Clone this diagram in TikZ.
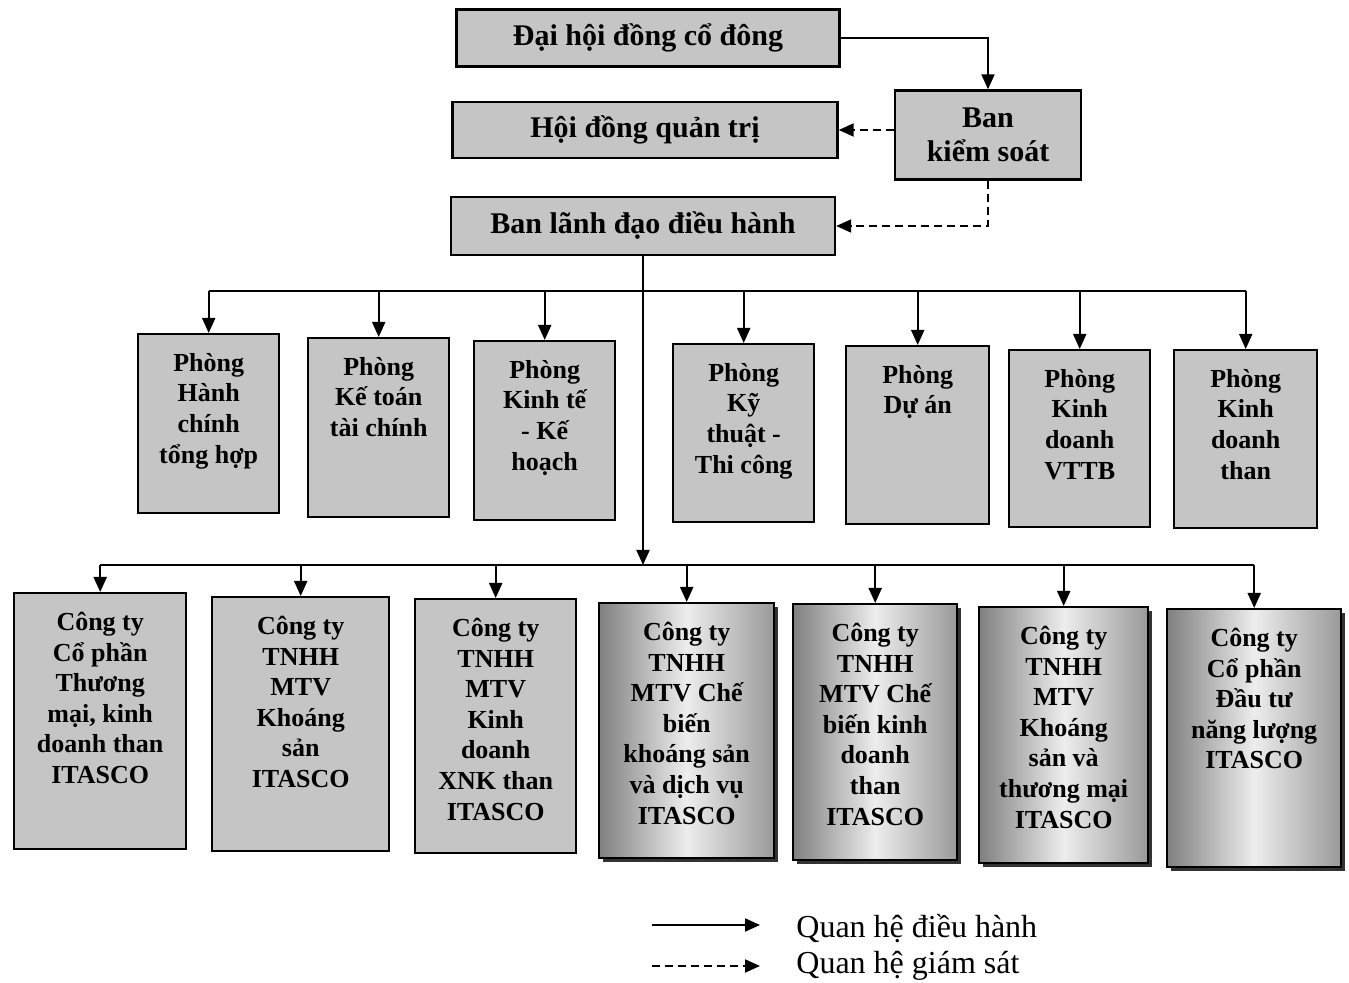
\documentclass[tikz,border=0pt]{standalone}
\usepackage{fontspec}
\setmainfont{Liberation Serif}
\usetikzlibrary{arrows.meta,shadows}
\definecolor{boxgray}{RGB}{197,197,197}
\newcommand{\cell}[3]{\parbox[c][#2][t]{#1}{\centering\vspace*{9.5pt}#3}}

\begin{document}
\begin{tikzpicture}[x=0.5pt,y=-0.5pt,
    ctrl/.style={line width=1pt,-{Triangle[length=7.5pt,width=6.5pt]}},
    superv/.style={ctrl,dash pattern=on 4pt off 2.5pt},
    head/.style={draw,fill=boxgray,line width=1.2pt,align=center,
      font=\bfseries\fontsize{15}{17}\selectfont},
    unit/.style={draw,fill=boxgray,line width=1.2pt,inner sep=0pt,anchor=north west,
      font=\bfseries\fontsize{13}{15.3}\selectfont},
    subsid/.style={unit,left color=black!50,right color=black!40,middle color=black!7,
      drop shadow={shadow xshift=1.8pt,shadow yshift=-1.8pt,fill=black!80,opacity=1}},
    legend/.style={anchor=west,inner sep=0pt,font=\fontsize{16}{19}\selectfont}]
    \useasboundingbox (0,0) rectangle (1349,983);

    \node [head,minimum width=191.5pt,minimum height=28.5pt] (agm) at (648,38) {Đại hội đồng cổ đông};
    \node [head,minimum width=192.5pt,minimum height=28pt] (board) at (645,130) {Hội đồng quản trị};
    \node [head,minimum width=93pt,minimum height=44.5pt] (audit) at (988,135) {Ban\\kiểm soát};
    \node [head,minimum width=192pt,minimum height=29pt] (lead) at (643,226) {Ban lãnh đạo điều hành};

    \node [unit] (d1) at (137,333) {\cell{70.5pt}{89.5pt}{Phòng\\Hành\\chính\\tổng hợp}};
    \node [unit] (d2) at (307,337) {\cell{70.5pt}{89.5pt}{Phòng\\Kế toán\\tài chính}};
    \node [unit] (d3) at (473,340) {\cell{70.5pt}{89.5pt}{Phòng\\Kinh tế\\- Kế\\hoạch}};
    \node [unit] (d4) at (672,343) {\cell{70.5pt}{89pt}{Phòng\\Kỹ\\thuật -\\Thi công}};
    \node [unit] (d5) at (845,345) {\cell{71.5pt}{89pt}{Phòng\\Dự án}};
    \node [unit] (d6) at (1008,349) {\cell{70.5pt}{88.5pt}{Phòng\\Kinh\\doanh\\VTTB}};
    \node [unit] (d7) at (1173,349) {\cell{71.5pt}{89pt}{Phòng\\Kinh\\doanh\\than}};

    \node [unit] (c1) at (13,592) {\cell{86pt}{128pt}{Công ty\\Cổ phần\\Thương\\mại, kinh\\doanh than\\ITASCO}};
    \node [unit] (c2) at (211,596) {\cell{88.5pt}{127pt}{Công ty\\TNHH\\MTV\\Khoáng\\sản\\ITASCO}};
    \node [unit] (c3) at (414,598) {\cell{80.5pt}{127pt}{Công ty\\TNHH\\MTV\\Kinh\\doanh\\XNK than\\ITASCO}};
    \node [subsid] (c4) at (598,602) {\cell{87.5pt}{127.5pt}{Công ty\\TNHH\\MTV Chế\\biến\\khoáng sản\\và dịch vụ\\ITASCO}};
    \node [subsid] (c5) at (792,603) {\cell{82pt}{128pt}{Công ty\\TNHH\\MTV Chế\\biến kinh\\doanh\\than\\ITASCO}};
    \node [subsid] (c6) at (978,606) {\cell{84.5pt}{128pt}{Công ty\\TNHH\\MTV\\Khoáng\\sản và\\thương mại\\ITASCO}};
    \node [subsid] (c7) at (1166,608) {\cell{87pt}{129pt}{Công ty\\Cổ phần\\Đầu tư\\năng lượng\\ITASCO}};

    \draw [ctrl] (agm.east) -| (audit.north);
    \draw [superv] (audit.west |- board.east) -- (board.east);
    \draw [superv] (audit.south) |- (lead.east);

    \coordinate (busA) at (645,291);
    \coordinate (busB) at (645,565);
    \draw [ctrl] (lead.south) -- (lead.south |- busB);
    \draw [line width=1pt] (d1.north |- busA) -- (d7.north |- busA);
    \foreach \i in {1,...,7}
      \draw [ctrl] (d\i.north |- busA) -- (d\i.north);
    \draw [line width=1pt] (c1.north |- busB) -- (c7.north |- busB);
    \foreach \i in {1,...,7}
      \draw [ctrl] (c\i.north |- busB) -- (c\i.north);

    \node [legend] (lg1) at (796,929) {Quan hệ điều hành};
    \node [legend] (lg2) at (796,966) {Quan hệ giám sát};
    \coordinate (k1a) at (652,925);
    \coordinate (k1b) at (760,925);
    \coordinate (k2a) at (652,966);
    \coordinate (k2b) at (760,966);
    \draw [ctrl] (k1a) -- (k1b);
    \draw [superv] (k2a) -- (k2b);
\end{tikzpicture}
\end{document}
